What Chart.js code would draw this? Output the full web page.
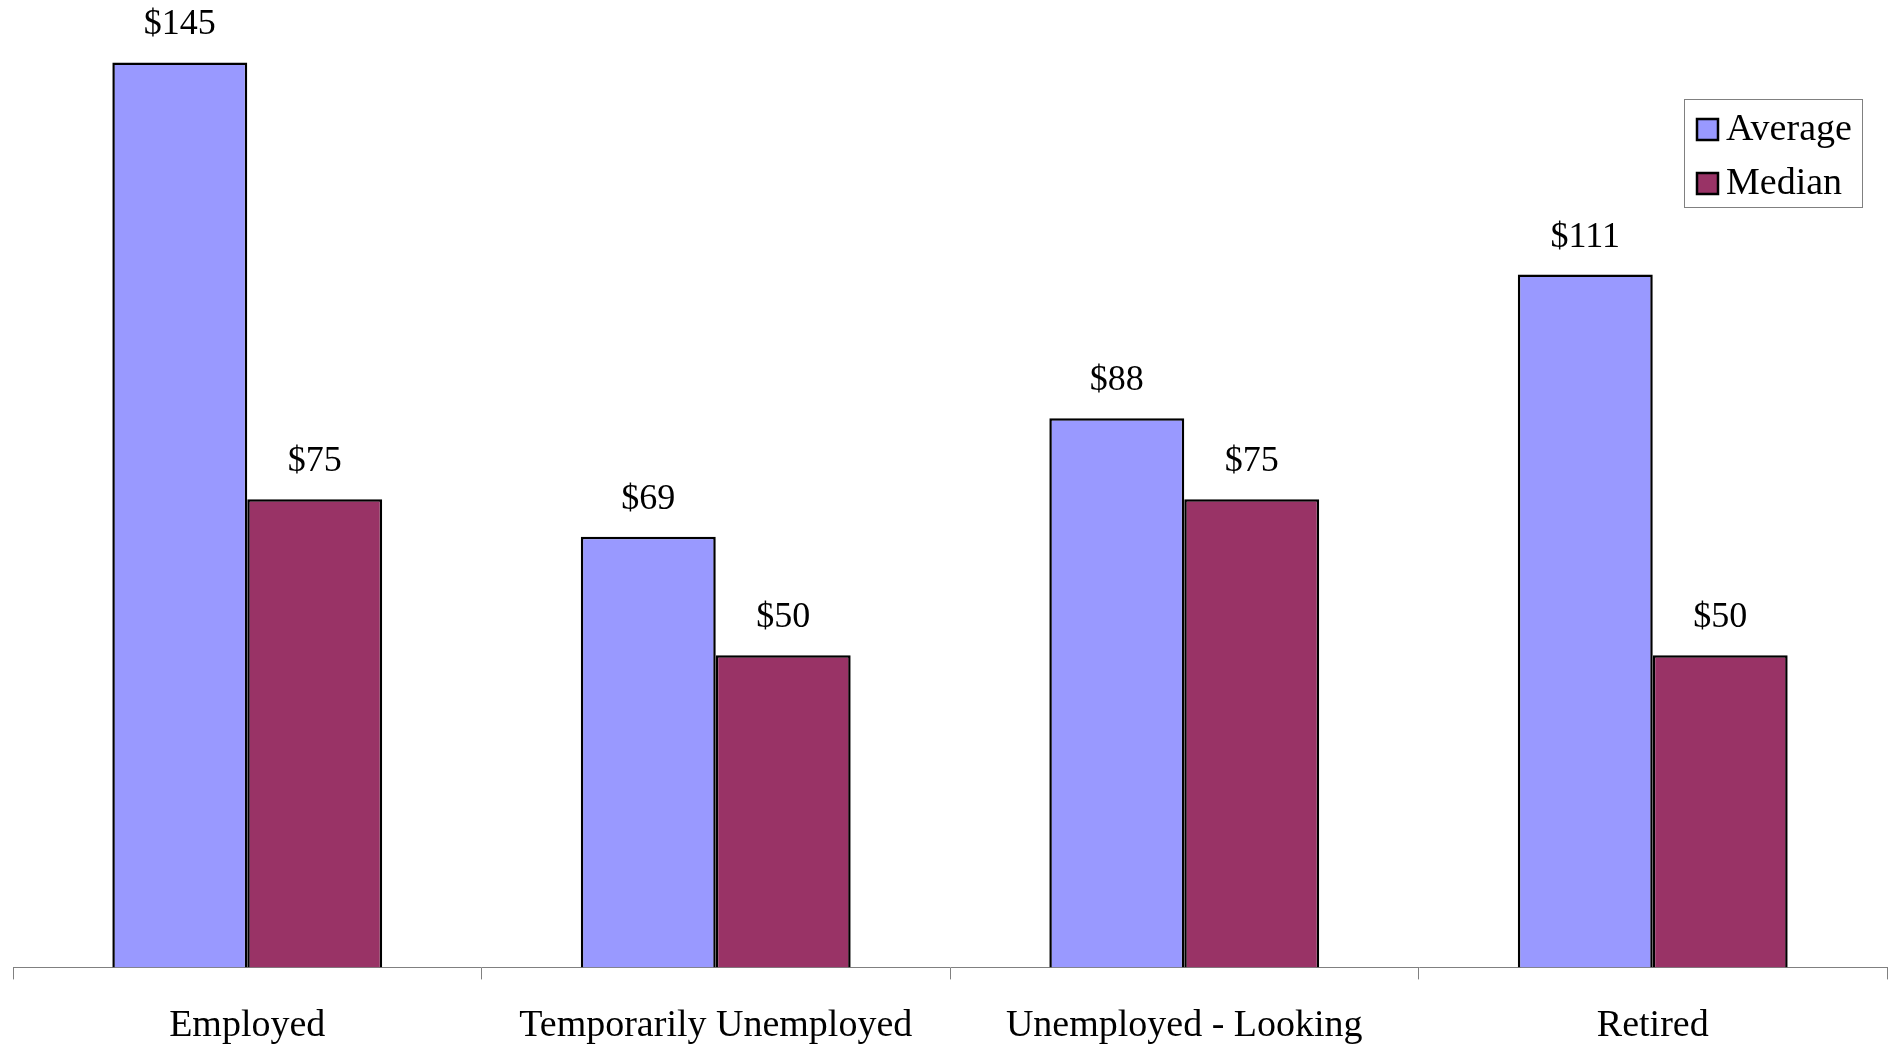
<!DOCTYPE html>
<html>
<head>
<meta charset="utf-8">
<script src="https://cdn.jsdelivr.net/npm/chart.js@4.4.0/dist/chart.umd.min.js"></script>
<style>
  html, body { margin: 0; padding: 0; background: #fff; }
  #wrap { width: 1897px; height: 1047px; }
</style>
</head>
<body>
<div id="wrap"><canvas id="myChart"></canvas></div>
<script>
const categories = ['Employed', 'Temporarily Unemployed', 'Unemployed - Looking', 'Retired'];
const averageValues = [145, 69, 88, 111];
const medianValues = [75, 50, 75, 50];
const seriesNames = ['Average', 'Median'];

const FONT = '"Liberation Serif", "Times New Roman", serif';

// value labels above each bar
const barLabels = {
    id: 'barLabels',
    afterDatasetsDraw(chart) {
        const c = chart.ctx;
        c.save();
        c.font = '36px ' + FONT;
        c.fillStyle = '#000';
        c.textAlign = 'center';
        c.textBaseline = 'alphabetic';
        chart.data.datasets.forEach((ds, i) => {
            chart.getDatasetMeta(i).data.forEach((bar, j) => {
                c.fillText('$' + ds.data[j], bar.x, bar.y - 28);
            });
        });
        c.restore();
    }
};

// boxed legend in the top right corner
const boxLegend = {
    id: 'boxLegend',
    afterDraw(chart) {
        const c = chart.ctx;
        const x = 1684, y = 99, w = 178, h = 108;
        c.save();
        c.fillStyle = '#fff';
        c.fillRect(x, y, w, h);
        c.strokeStyle = '#808080';
        c.lineWidth = 1;
        c.strokeRect(x + 0.5, y + 0.5, w, h);
        c.font = '38px ' + FONT;
        c.textBaseline = 'middle';
        chart.data.datasets.forEach((ds, i) => {
            const cy = y + 30 + i * 54;
            c.fillStyle = ds.backgroundColor;
            c.fillRect(1697, cy - 10, 21, 21);
            c.strokeStyle = '#000';
            c.lineWidth = 2.5;
            c.strokeRect(1697, cy - 10, 21, 21);
            c.fillStyle = '#000';
            c.fillText(ds.label, 1726, cy + 1);
        });
        c.restore();
    }
};

const data = {
    labels: categories,
    datasets: [{
        label: seriesNames[0],
        data: averageValues,
        backgroundColor: '#9999FF',
        borderColor: '#000',
        borderWidth: 2.5,
        borderSkipped: 'bottom',
        barPercentage: 1,
        categoryPercentage: 0.576
    }, {
        label: seriesNames[1],
        data: medianValues,
        backgroundColor: '#993366',
        borderColor: '#000',
        borderWidth: 2.5,
        borderSkipped: 'bottom',
        barPercentage: 1,
        categoryPercentage: 0.576
    }]
};

const config = {
    type: 'bar',
    data: data,
    options: {
        responsive: true,
        maintainAspectRatio: false,
        animation: false,
        layout: { padding: { left: 13, right: 10, top: 0, bottom: -26 } },
        plugins: {
            legend: { display: false },
            tooltip: { enabled: false }
        },
        scales: {
            x: {
                grid: {
                    offset: true,
                    drawOnChartArea: false,
                    drawTicks: true,
                    tickLength: 12,
                    color: '#808080'
                },
                border: { display: true, color: '#808080', width: 1 },
                ticks: {
                    color: '#000',
                    padding: 24,
                    maxRotation: 0,
                    font: { family: FONT, size: 38 }
                }
            },
            y: {
                display: false,
                min: 0,
                max: 155
            }
        }
    },
    plugins: [barLabels, boxLegend]
};

const myChart = new Chart(document.getElementById('myChart'), config);
</script>
</body>
</html>
